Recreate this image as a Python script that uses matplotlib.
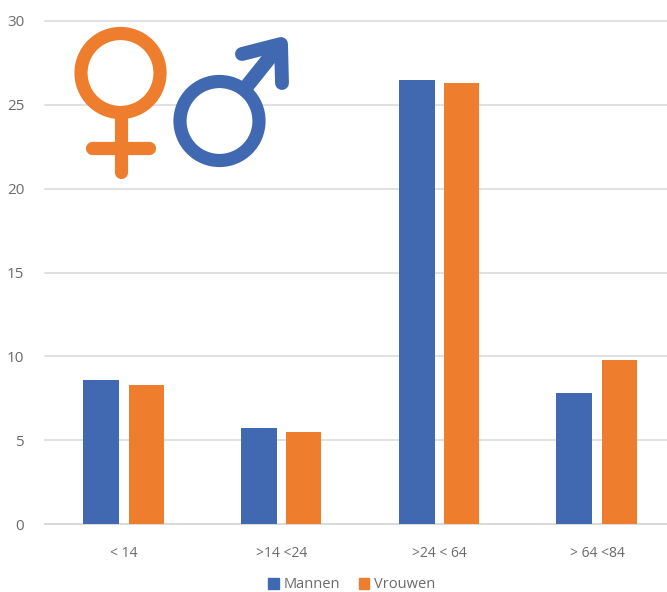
import matplotlib
matplotlib.use('Agg')
import matplotlib.pyplot as plt
from matplotlib.patches import Circle, Patch
import numpy as np

categories = ['< 14', '>14 <24', '>24 < 64', '> 64 <84']
mannen = [8.6, 5.7, 26.5, 7.8]
vrouwen = [8.3, 5.5, 26.3, 9.8]
y_ticks = [0, 5, 10, 15, 20, 25, 30]

BLUE = '#4069b2'
ORANGE = '#ef7d2e'
GREY = '#6b6b6b'
GRID = '#d9d9d9'
W, H = 667, 592

plt.rcParams['font.family'] = ['Open Sans', 'DejaVu Sans']

fig = plt.figure(figsize=(W / 100, H / 100), dpi=100)
ax = fig.add_axes([45 / W, 1 - 524 / H, (W - 45) / W, 503 / H])

x = np.arange(len(categories))
ax.bar(x - 0.143, mannen, width=0.228, color=BLUE, zorder=3, label='Mannen')
ax.bar(x + 0.141, vrouwen, width=0.222, color=ORANGE, zorder=3, label='Vrouwen')

ax.set_xlim(-0.5, 3.444)
ax.set_ylim(0, 30)
ax.set_xticks(x)
ax.set_xticklabels(categories)
ax.set_yticks(y_ticks)
ax.tick_params(axis='both', length=0, labelcolor=GREY)
ax.tick_params(axis='x', labelsize=10, pad=16)
ax.tick_params(axis='y', labelsize=11, pad=15)
ax.grid(axis='y', color=GRID, linewidth=1.1, zorder=0, clip_on=False)
for side in ['top', 'right', 'left']:
    ax.spines[side].set_visible(False)
ax.spines['bottom'].set_color(GRID)
ax.spines['bottom'].set_linewidth(1.3)

fig.legend(handles=[Patch(color=BLUE, label='Mannen'), Patch(color=ORANGE, label='Vrouwen')],
           loc='center', bbox_to_anchor=(352 / W, 1 - 585 / H), ncol=2, frameon=False,
           fontsize=10.5, labelcolor=GREY, handlelength=0.7, handleheight=0.7,
           handletextpad=0.35, columnspacing=1.3, borderpad=0)

# gender icons, drawn in pixel coordinates on top of the chart
icons = fig.add_axes([0, 0, 1, 1], facecolor='none')
icons.set_xlim(0, W)
icons.set_ylim(H, 0)
icons.axis('off')

icons.add_patch(Circle((120.5, 73), 39.5, facecolor='white', edgecolor=ORANGE, linewidth=9.5))
icons.plot([120.5, 120.5], [118, 172], color=ORANGE, linewidth=9.5, solid_capstyle='round')
icons.plot([92, 149], [148, 148], color=ORANGE, linewidth=9.5, solid_capstyle='round')

icons.plot([247, 279], [86, 46], color=BLUE, linewidth=10.5, solid_capstyle='butt')
icons.add_patch(Circle((219.5, 121), 39.5, facecolor='white', edgecolor=BLUE, linewidth=9.5))
icons.plot([242, 281, 282], [54, 44, 83], color=BLUE, linewidth=10,
           solid_capstyle='round', solid_joinstyle='round')

fig.savefig('out.png', dpi=100)
